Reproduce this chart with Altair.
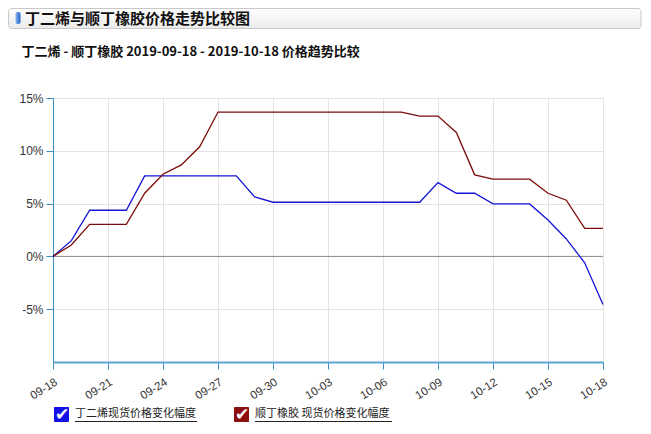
import altair as alt
import pandas as pd

# ---- data ----
dates = list(pd.date_range("2019-09-18", "2019-10-18", freq="D").strftime("%Y-%m-%d"))
series_names = ["丁二烯现货价格变化幅度", "顺丁橡胶 现货价格变化幅度"]
butadiene = [0, 1.49, 4.37, 4.37, 4.37, 7.63, 7.63, 7.63, 7.63, 7.63, 7.63, 5.63, 5.13,
             5.13, 5.13, 5.13, 5.13, 5.13, 5.13, 5.13, 5.13,
             6.99, 5.98, 5.98, 4.97, 4.97, 4.97, 3.45, 1.65, -0.60, -4.56]
br_rubber = [0, 1.08, 3.04, 3.04, 3.04, 5.98, 7.78, 8.67, 10.38,
             13.67, 13.67, 13.67, 13.67, 13.67, 13.67, 13.67, 13.67, 13.67, 13.67, 13.67,
             13.29, 13.29, 11.74, 7.72, 7.31, 7.31, 7.31, 5.98, 5.32, 2.66, 2.66]
y_ticks = [-5, 0, 5, 10, 15]
x_tick_dates = dates[::3]
colors = ["#1414d6", "#7b0c0c"]
box_colors = ["#1212e6", "#8b0f0f"]
title_text = "丁二烯与顺丁橡胶价格走势比较图"
subtitle_text = "丁二烯 - 顺丁橡胶 2019-09-18 - 2019-10-18 价格趋势比较"

rows = []
for name, vals in zip(series_names, [butadiene, br_rubber]):
    for d, v in zip(dates, vals):
        rows.append({"date": d, "value": v, "series": name})
df = pd.DataFrame(rows)

x_tick_ms = [int(pd.Timestamp(d, tz="UTC").timestamp() * 1000) for d in x_tick_dates]
axis_color = "#3a8fc0"
grid_color = "#e3e3e3"

x_enc = alt.X("date:T",
              scale=alt.Scale(type="utc", nice=False),
              axis=alt.Axis(values=x_tick_ms, labelExpr="utcFormat(datum.value, '%m-%d')",
                            labelAngle=-32, labelAlign="right", labelBaseline="top",
                            labelFont="Liberation Sans", labelFontSize=11.5, labelColor="#333",
                            domainColor="#5aa5d6", domainWidth=2, tickColor=axis_color,
                            tickSize=7, grid=True, gridColor=grid_color, title=None,
                            labelPadding=7))
y_enc = alt.Y("value:Q",
              scale=alt.Scale(domain=[-10, 15], nice=False, zero=False),
              axis=alt.Axis(values=y_ticks, labelExpr="datum.value + '%'",
                            labelFont="Liberation Sans", labelFontSize=12, labelColor="#333",
                            domainColor=axis_color, tickColor=axis_color, tickSize=7,
                            grid=True, gridColor=grid_color, title=None, labelPadding=3))

lines = alt.Chart(df).mark_line(strokeWidth=1.3).encode(
    x=x_enc, y=y_enc,
    color=alt.Color("series:N", scale=alt.Scale(domain=series_names, range=colors), legend=None),
)

zero_line = alt.Chart(pd.DataFrame({"value": [0]})).mark_rule(color="#8a8a8a", strokeWidth=1).encode(
    y=alt.Y("value:Q")
)

one = alt.Data(values=[{"a": 1}])

header = alt.Chart(one).mark_rect(
    fill=alt.LinearGradient(gradient="linear",
                            stops=[alt.GradientStop(color="#ffffff", offset=0),
                                   alt.GradientStop(color="#ebebeb", offset=1)],
                            x1=0, x2=0, y1=0, y2=1),
    stroke="#c9c9c9", strokeWidth=1, cornerRadius=3,
).encode(x=alt.value(-44.5), x2=alt.value(588), y=alt.value(-89.5), y2=alt.value(-69.5))

pill = alt.Chart(one).mark_rect(
    fill=alt.LinearGradient(gradient="linear",
                            stops=[alt.GradientStop(color="#8ab8f2", offset=0),
                                   alt.GradientStop(color="#1f5fc8", offset=1)],
                            x1=0, x2=1, y1=0, y2=0),
    cornerRadius=2,
).encode(x=alt.value(-37.5), x2=alt.value(-32.5), y=alt.value(-86), y2=alt.value(-74))

title = alt.Chart(one).mark_text(
    text=title_text, align="left", baseline="middle", font="Noto Sans CJK SC",
    fontSize=15, fontWeight="bold", color="#111"
).encode(x=alt.value(-28), y=alt.value(-79.5))

subtitle = alt.Chart(one).mark_text(
    text=subtitle_text, align="left", baseline="middle", font="Noto Sans CJK SC",
    fontSize=13, fontWeight="bold", color="#111"
).encode(x=alt.value(-31.5), y=alt.value(-46))

legend_layers = []
legend_x = [1, 181]
legend_under = [122, 137]
for i, name in enumerate(series_names):
    lx = legend_x[i]
    legend_layers.append(alt.Chart(one).mark_rect(fill=box_colors[i], cornerRadius=1).encode(
        x=alt.value(lx), x2=alt.value(lx + 15), y=alt.value(309), y2=alt.value(324)))
    legend_layers.append(alt.Chart(one).mark_text(
        text="✔", font="DejaVu Sans", fontSize=17, color="white", align="center", baseline="middle"
    ).encode(x=alt.value(lx + 8), y=alt.value(316.5)))
    legend_layers.append(alt.Chart(one).mark_text(
        text=name, font="Noto Sans CJK SC", fontSize=11, color="#222", align="left", baseline="middle"
    ).encode(x=alt.value(lx + 21), y=alt.value(316)))
    legend_layers.append(alt.Chart(one).mark_rule(color="#222", strokeWidth=1).encode(
        x=alt.value(lx + 21), x2=alt.value(lx + 21 + legend_under[i]), y=alt.value(323.5)))

chart = alt.layer(header, pill, title, subtitle, zero_line, lines, *legend_layers).properties(
    width=550, height=264,
    padding={"left": 45, "top": 90, "right": 40, "bottom": 64},
    autosize=alt.AutoSizeParams(type="none"),
).configure_view(stroke=None).configure(background="white")

chart.save("out.html", embed_options={"renderer": "svg", "actions": False})
